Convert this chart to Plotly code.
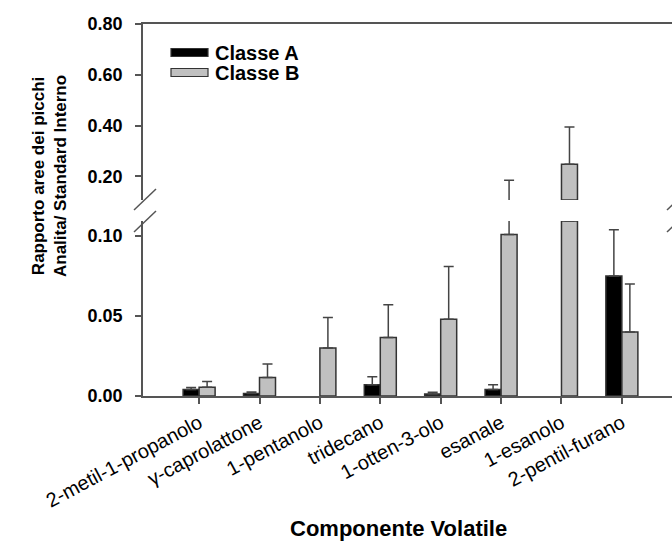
import plotly.graph_objects as go

# Volatile compounds and peak-area ratios (analyte / internal standard)
categories = ["2-metil-1-propanolo", "γ-caprolattone", "1-pentanolo", "tridecano",
              "1-otten-3-olo", "esanale", "1-esanolo", "2-pentil-furano"]
classe_a = [0.004, 0.0015, None, 0.007, 0.0012, 0.004, None, 0.075]
err_a = [0.0013, 0.001, None, 0.005, 0.0012, 0.003, None, 0.029]
classe_b = [0.0055, 0.0115, 0.030, 0.0365, 0.048, 0.101, 0.248, 0.040]
err_b = [0.0035, 0.0085, 0.019, 0.0205, 0.033, 0.084, 0.146, 0.030]

lower_ticks = [0.0, 0.05, 0.10]
upper_ticks = [0.20, 0.40, 0.60, 0.80]

# Broken y axis: lower and upper segments
LOW_RANGE = [0.0, 0.1094]
HIGH_RANGE = [0.107, 0.80]

W, H = 672, 541
PL, PR, PT, PB = 143, 672, 24, 396  # plot area in pixels
FONT = "Liberation Sans, Arial, sans-serif"
AXIS_COLOR = "#555555"
EDGE = "#333333"
GREY = "#c0c0c0"


def px_x(px):
    return (px - PL) / (PR - PL)


def px_y(py):
    return (PB - py) / (PB - PT)


def lower_part(vals, errs):
    ys, es = [], []
    for v, e in zip(vals, errs):
        if v is None:
            ys.append(None)
            es.append(0)
        elif v > LOW_RANGE[1]:
            ys.append(LOW_RANGE[1])
            es.append(0)
        else:
            ys.append(v)
            es.append(e)
    return ys, es


def upper_part(vals, errs):
    ys, bs, es = [], [], []
    for v, e in zip(vals, errs):
        if v is None:
            ys.append(None)
            bs.append(0)
            es.append(0)
        elif v > HIGH_RANGE[0]:
            bs.append(HIGH_RANGE[0])
            ys.append(v - HIGH_RANGE[0])
            es.append(e)
        else:
            bs.append(0)
            ys.append(v)
            es.append(e)
    return ys, bs, es


fig = go.Figure()

series = [("Classe A", classe_a, err_a, "black"), ("Classe B", classe_b, err_b, GREY)]
for name, vals, errs, color in series:
    ys, es = lower_part(vals, errs)
    fig.add_trace(go.Bar(
        x=categories, y=ys, name=name, xaxis="x", yaxis="y",
        marker=dict(color=color, line=dict(color=EDGE, width=1.5)),
        error_y=dict(type="data", symmetric=False, array=es,
                     arrayminus=[0] * len(es), color="#444444",
                     thickness=1.5, width=5),
        showlegend=False,
    ))
for name, vals, errs, color in series:
    ys, bs, es = upper_part(vals, errs)
    fig.add_trace(go.Bar(
        x=categories, y=ys, base=bs, name=name, xaxis="x2", yaxis="y2",
        marker=dict(color=color, line=dict(color=EDGE, width=1.5)),
        error_y=dict(type="data", symmetric=False, array=es,
                     arrayminus=[0] * len(es), color="#444444",
                     thickness=1.5, width=5),
        showlegend=False,
    ))

x_range = [-0.929, 7.83]
tick_font = dict(family=FONT, size=18, color="black", weight="bold")

fig.update_layout(
    width=W, height=H,
    margin=dict(l=PL, r=W - PR, t=PT, b=H - PB),
    paper_bgcolor="white", plot_bgcolor="white",
    barmode="group", bargap=0.47, bargroupgap=0.0,
    showlegend=False,
    xaxis=dict(
        domain=[0, 1], anchor="y", range=x_range, type="category",
        showline=True, linecolor=AXIS_COLOR, linewidth=1.5,
        ticks="outside", ticklen=6, tickcolor=AXIS_COLOR, tickwidth=1.5,
        tickangle=-28, tickfont=dict(family=FONT, size=20, color="black"),
        showgrid=False, zeroline=False,
    ),
    xaxis2=dict(
        domain=[0, 1], anchor="y2", range=x_range, type="category",
        matches="x", side="top",
        showline=True, linecolor=AXIS_COLOR, linewidth=1.5,
        showticklabels=False, ticks="", showgrid=False, zeroline=False,
    ),
    yaxis=dict(
        domain=[0, px_y(221)], range=LOW_RANGE,
        tickvals=lower_ticks, ticktext=[f"{v:.2f}" for v in lower_ticks],
        showline=True, linecolor=AXIS_COLOR, linewidth=1.5,
        ticks="outside", ticklen=6, tickcolor=AXIS_COLOR, tickwidth=1.5,
        tickfont=tick_font, ticklabelstandoff=9,
        showgrid=False, zeroline=False,
    ),
    yaxis2=dict(
        domain=[px_y(200), 1], range=HIGH_RANGE,
        tickvals=upper_ticks, ticktext=[f"{v:.2f}" for v in upper_ticks],
        showline=True, linecolor=AXIS_COLOR, linewidth=1.5,
        ticks="outside", ticklen=6, tickcolor=AXIS_COLOR, tickwidth=1.5,
        tickfont=tick_font, ticklabelstandoff=9,
        showgrid=False, zeroline=False,
    ),
)

shapes = []
# axis-break marks on both sides
for cx in (145, 678):
    for cy in (199.5, 221.5):
        shapes.append(dict(
            type="line", xref="paper", yref="paper",
            x0=px_x(cx - 11), y0=px_y(cy + 10.5),
            x1=px_x(cx + 11), y1=px_y(cy - 10.5),
            line=dict(color=AXIS_COLOR, width=1.5),
        ))
# legend keys
for y0, y1, color in ((48.5, 56.5, "black"), (68.5, 76.5, GREY)):
    shapes.append(dict(
        type="rect", xref="paper", yref="paper",
        x0=px_x(171), x1=px_x(208), y0=px_y(y1), y1=px_y(y0),
        fillcolor=color, line=dict(color=EDGE, width=1.2),
    ))
fig.update_layout(shapes=shapes)

annotations = [
    dict(text="Classe A", x=px_x(213), y=px_y(53), xanchor="left", yanchor="middle"),
    dict(text="Classe B", x=px_x(213), y=px_y(73), xanchor="left", yanchor="middle"),
]
for a in annotations:
    a.update(xref="paper", yref="paper", showarrow=False,
             font=dict(family=FONT, size=20, color="black", weight="bold"))

annotations.append(dict(
    text="Rapporto aree dei picchi<br>Analita/ Standard Interno",
    xref="paper", yref="paper", x=px_x(49), y=px_y(176),
    xanchor="center", yanchor="middle", textangle=-90, showarrow=False,
    font=dict(family=FONT, size=17, color="black", weight="bold"),
))
annotations.append(dict(
    text="Componente Volatile",
    xref="paper", yref="paper", x=px_x(398), y=px_y(528),
    xanchor="center", yanchor="middle", showarrow=False,
    font=dict(family=FONT, size=22, color="black", weight="bold"),
))
fig.update_layout(annotations=annotations)

fig.write_html("out.html")
